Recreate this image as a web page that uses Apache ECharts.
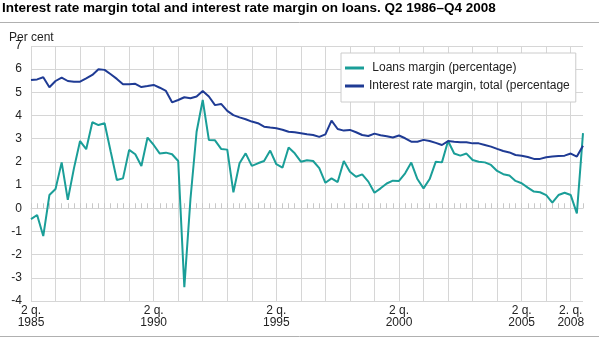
<!DOCTYPE html>
<html><head><meta charset="utf-8">
<script src="https://cdn.jsdelivr.net/npm/echarts@6/dist/echarts.min.js"></script>
<style>html,body{margin:0;padding:0;background:#fff}#c{width:599px;height:338px}</style>
</head><body><div id="c"></div>
<script>
// Quarters Q2 1986 .. Q4 2008
const quarters = [];
for (let y = 1986; y <= 2008; y++) {
  for (let q = 1; q <= 4; q++) {
    if (y === 1986 && q < 2) continue;
    quarters.push(y + ' Q' + q);
  }
}
const tickLabelIndex = [0, 20, 40, 60, 80, 88];
const tickLabelText = ['2 q.\n1985', '2 q.\n1990', '2 q.\n1995', '2 q.\n2000', '2 q.\n2005', '2. q.\n2008'];

const loansMargin = [
  -0.47, -0.29, -1.2, 0.57, 0.83, 1.98, 0.36, 1.72, 2.90, 2.55,
  3.71, 3.59, 3.67, 2.44, 1.22, 1.29, 2.52, 2.33, 1.82, 3.05,
  2.73, 2.36, 2.40, 2.33, 2.04, -3.4, 0.4, 3.3, 4.67, 2.95,
  2.93, 2.56, 2.53, 0.69, 1.94, 2.37, 1.83, 1.94, 2.04, 2.49,
  1.90, 1.75, 2.62, 2.37, 2.01, 2.07, 2.04, 1.73, 1.10, 1.29,
  1.13, 2.04, 1.58, 1.36, 1.46, 1.15, 0.67, 0.86, 1.07, 1.19,
  1.18, 1.51, 1.97, 1.26, 0.86, 1.26, 2.01, 1.98, 2.90, 2.36,
  2.27, 2.36, 2.08, 2.01, 1.98, 1.87, 1.61, 1.47, 1.41, 1.18,
  1.08, 0.89, 0.72, 0.69, 0.57, 0.24, 0.57, 0.67, 0.57, -0.22,
  3.24
];
const totalMargin = [
  5.53, 5.56, 5.65, 5.22, 5.49, 5.64, 5.49, 5.46, 5.46, 5.60,
  5.75, 6.00, 5.97, 5.78, 5.58, 5.35, 5.35, 5.37, 5.23, 5.27,
  5.32, 5.20, 5.06, 4.57, 4.67, 4.79, 4.75, 4.82, 5.06, 4.82,
  4.45, 4.50, 4.20, 4.02, 3.92, 3.84, 3.74, 3.67, 3.52, 3.48,
  3.45, 3.39, 3.30, 3.28, 3.24, 3.19, 3.16, 3.08, 3.19, 3.78,
  3.42, 3.35, 3.38, 3.28, 3.16, 3.12, 3.22, 3.15, 3.11, 3.05,
  3.14, 3.02, 2.87, 2.87, 2.95, 2.90, 2.82, 2.73, 2.90, 2.87,
  2.85, 2.85, 2.80, 2.80, 2.73, 2.66, 2.56, 2.47, 2.41, 2.30,
  2.27, 2.21, 2.13, 2.13, 2.20, 2.23, 2.25, 2.27, 2.36, 2.23,
  2.70
];
const seriesNames = [' Loans margin (percentage)', 'Interest rate margin, total (percentage'];
const seriesColors = ['#1a9e98', '#1f3b94'];

const chart = echarts.init(document.getElementById('c'));
const grid = '#d6d6d6';
chart.setOption({
  animation: false,
  textStyle: { fontFamily: 'Liberation Sans, Arial, sans-serif' },
  title: {
    text: 'Interest rate margin total and interest rate margin on loans. Q2 1986\u2013Q4 2008',
    left: 2, top: 1, padding: 0,
    textStyle: { fontSize: 13.5, fontWeight: 'bold', color: '#000', fontFamily: 'Liberation Sans, Arial, sans-serif' }
  },
  graphic: [
    { type: 'line', shape: { x1: 0, y1: 22.5, x2: 599, y2: 22.5 }, style: { stroke: '#b0b0b0', lineWidth: 1 } },
    { type: 'line', shape: { x1: 0, y1: 336.5, x2: 599, y2: 336.5 }, style: { stroke: '#b0b0b0', lineWidth: 1 } },
    { type: 'text', left: 9, top: 32, style: { text: 'Per cent', fontSize: 12, fill: '#222', fontFamily: 'Liberation Sans, Arial, sans-serif' } }
  ],
  legend: {
    orient: 'vertical', left: 341, top: 53,
    icon: 'rect', itemWidth: 19, itemHeight: 3, itemGap: 6,
    padding: [9, 6, 10, 4],
    borderColor: '#cccccc', borderWidth: 1, backgroundColor: '#fff',
    textStyle: { fontSize: 12, color: '#222' },
    data: seriesNames
  },
  grid: { left: 31, right: 16, top: 46, bottom: 37 },
  xAxis: [
    {
      type: 'category', data: quarters, boundaryGap: false, position: 'bottom',
      axisLine: { show: false, onZero: false }, axisTick: { show: false },
      axisLabel: {
        interval: (i) => tickLabelIndex.includes(i),
        formatter: (v, i) => { const k = tickLabelIndex.indexOf(i); return k >= 0 ? tickLabelText[k] : ''; },
        fontSize: 12, color: '#222', margin: 4, lineHeight: 12
      },
      splitLine: { show: true, interval: (i) => i % 4 === 0, lineStyle: { color: grid, width: 1 } }
    },
    {
      type: 'category', data: quarters, boundaryGap: false, position: 'bottom',
      axisLine: { show: true, onZero: true, lineStyle: { color: grid } },
      axisTick: { show: true, inside: true, length: 5, interval: 0, lineStyle: { color: '#c8c8c8' } },
      axisLabel: { show: false }, splitLine: { show: false }
    }
  ],
  yAxis: {
    type: 'value', min: -4, max: 7, interval: 1,
    axisLine: { show: false }, axisTick: { show: false },
    axisLabel: { fontSize: 12, color: '#222', margin: 9 },
    splitLine: { lineStyle: { color: grid, width: 1 } }
  },
  series: [
    { name: seriesNames[0], type: 'line', xAxisIndex: 0, data: loansMargin, symbol: 'none',
      lineStyle: { width: 2, color: seriesColors[0] }, itemStyle: { color: seriesColors[0] } },
    { name: seriesNames[1], type: 'line', xAxisIndex: 0, data: totalMargin, symbol: 'none',
      lineStyle: { width: 2, color: seriesColors[1] }, itemStyle: { color: seriesColors[1] } }
  ]
});
</script>
</body></html>
